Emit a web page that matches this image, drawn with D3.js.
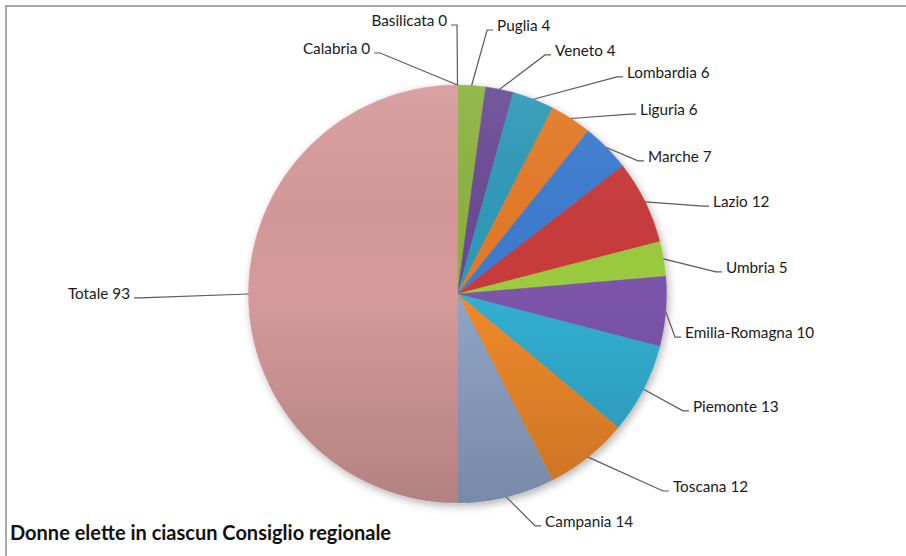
<!DOCTYPE html>
<html>
<head>
<meta charset="utf-8">
<script src="https://cdn.jsdelivr.net/npm/d3@7/dist/d3.min.js"></script>
<style>
  html, body { margin: 0; padding: 0; background: #ffffff; }
  svg { display: block; }
  .lbl { font-family: Lato, "Open Sans", sans-serif; font-size: 15.3px; fill: #1a1a1a; }
  .title { font-family: Lato, "Open Sans", sans-serif; font-size: 20px; font-weight: 700; fill: #111; }
</style>
</head>
<body>
<script>
// Seats won by women in each regional council, plus the overall total
const regions = ["Calabria", "Basilicata", "Puglia", "Veneto", "Lombardia", "Liguria", "Marche",
                 "Lazio", "Umbria", "Emilia-Romagna", "Piemonte", "Toscana", "Campania", "Totale"];
const seats = [0, 0, 4, 4, 6, 6, 7, 12, 5, 10, 13, 12, 14, 93];
const sliceColors = ["#4a7ebb", "#be4b48", "#8db33f", "#6b4b95", "#2f9ab8", "#e47a26", "#3c7bd0",
                     "#c93b3b", "#9bcb3f", "#7b55aa", "#33afd1", "#f0892a", "#8fa4c6", "#d69a9a"];
// Label elbow placement: angle (degrees, clockwise from 12 o'clock) and distance in pie radii
const labelAngle = [-17.8, -0.1, 6.4, 20.1, 36.3, 43.8, 53.6, 70.3, 85.1, 101.2, 117.4, 133.8, 161.5, -90.7];
const labelDist  = [1.211, 1.287, 1.271, 1.218, 1.289, 1.193, 1.073, 1.248, 1.241, 1.061, 1.215, 1.362, 1.170, 1.519];
const chartTitle = "Donne elette in ciascun Consiglio regionale";

const W = 906, H = 556;
const cx = 457.5, cy = 294, R = 209;

const svg = d3.select("body").append("svg").attr("width", W).attr("height", H);
const defs = svg.append("defs");

// soft shadow under the pie
const sh = defs.append("filter").attr("id", "pieShadow")
  .attr("x", "-10%").attr("y", "-10%").attr("width", "125%").attr("height", "125%");
sh.append("feDropShadow").attr("dx", 2).attr("dy", 3).attr("stdDeviation", 4)
  .attr("flood-color", "#000").attr("flood-opacity", 0.3);

// vertical shading over the pie: lighter at the top, darker at the bottom
const shade = defs.append("linearGradient").attr("id", "shade")
  .attr("x1", 0).attr("y1", 0).attr("x2", 0).attr("y2", 1);
shade.append("stop").attr("offset", "0%").attr("stop-color", "#fff").attr("stop-opacity", 0.08);
shade.append("stop").attr("offset", "50%").attr("stop-color", "#000").attr("stop-opacity", 0.0);
shade.append("stop").attr("offset", "100%").attr("stop-color", "#000").attr("stop-opacity", 0.16);

// chart frame (top and left edges)
svg.append("path").attr("d", `M6,${H} V6 H${W}`)
  .attr("fill", "none").attr("stroke", "#a9a9a9").attr("stroke-width", 2);

const color = d3.scaleOrdinal().domain(regions).range(sliceColors);
const data = regions.map((r, i) => ({ region: r, value: seats[i], la: labelAngle[i], ld: labelDist[i] }));

const pie = d3.pie().sort(null).value(d => d.value);
const arcs = pie(data);
const arc = d3.arc().innerRadius(0).outerRadius(R);

const g = svg.append("g").attr("transform", `translate(${cx},${cy})`);

g.append("g").attr("filter", "url(#pieShadow)")
  .selectAll("path.slice")
  .data(arcs)
  .join("path")
  .attr("class", "slice")
  .attr("d", arc)
  .attr("fill", d => color(d.data.region))
  .attr("stroke", d => color(d.data.region))
  .attr("stroke-width", 0.5);

g.append("circle").attr("r", R)
  .attr("fill", "url(#shade)")
  .style("pointer-events", "none");

// leaders and labels
const polar = (angDeg, dist) => {
  const a = angDeg * Math.PI / 180;
  return [dist * Math.sin(a), -dist * Math.cos(a)];
};

const labG = g.append("g");
arcs.forEach(d => {
  const mid = (d.startAngle + d.endAngle) / 2;
  const p0 = [R * Math.sin(mid), -R * Math.cos(mid)];
  const e = polar(d.data.la, d.data.ld * R);
  const left = d.data.la < 0;
  const s = left ? -1 : 1;
  const p2 = [e[0] + s * 6, e[1]];
  labG.append("path")
    .attr("d", d3.line()([p0, e, p2]))
    .attr("fill", "none").attr("stroke", "#5a5a5a").attr("stroke-width", 1.2);
  labG.append("text")
    .attr("class", "lbl")
    .attr("x", e[0] + s * 10)
    .attr("y", e[1] + 1)
    .attr("text-anchor", left ? "end" : "start")
    .text(`${d.data.region} ${d.data.value}`);
});

svg.append("text").attr("class", "title")
  .attr("x", 10).attr("y", 540)
  .text(chartTitle);
</script>
</body>
</html>
